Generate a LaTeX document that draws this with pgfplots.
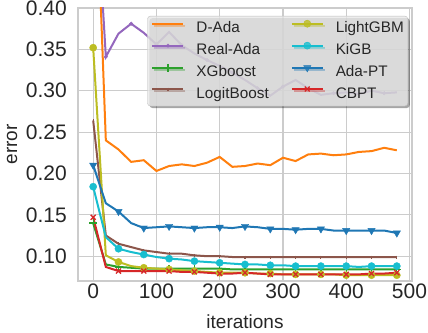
\documentclass[border=0pt]{standalone}
\usepackage{fontspec}
\setmainfont{Liberation Sans}
\usepackage{pgfplots}
\usepackage{pgfplotstable}
\pgfplotsset{compat=1.18}
\usetikzlibrary{shadows}

\definecolor{tblue}{HTML}{1F77B4}
\definecolor{torange}{HTML}{FF7F0E}
\definecolor{tgreen}{HTML}{2CA02C}
\definecolor{tred}{HTML}{D62728}
\definecolor{tpurple}{HTML}{9467BD}
\definecolor{tbrown}{HTML}{8C564B}
\definecolor{tolive}{HTML}{BCBD22}
\definecolor{tcyan}{HTML}{17BECF}
\definecolor{txt}{HTML}{262626}

% error vs. iterations, one row every 20 iterations
\pgfplotstableread{
x   dada  reada xgb   logit lgbm  kigb  adapt cbpt
0   0.650 0.600 0.140 0.264 0.352 0.184 0.210 0.147
20  0.240 0.341 0.090 0.125 0.101 0.123 0.164 0.087
40  0.229 0.369 0.087 0.115 0.093 0.109 0.154 0.082
60  0.214 0.381 0.086 0.111 0.088 0.105 0.140 0.082
80  0.216 0.370 0.085 0.107 0.086 0.102 0.134 0.082
100 0.203 0.356 0.085 0.105 0.085 0.099 0.135 0.082
120 0.209 0.371 0.085 0.103 0.084 0.097 0.136 0.082
140 0.211 0.355 0.085 0.103 0.083 0.096 0.135 0.081
160 0.209 0.345 0.085 0.101 0.082 0.094 0.134 0.081
180 0.213 0.337 0.085 0.100 0.081 0.093 0.135 0.080
200 0.220 0.330 0.085 0.100 0.080 0.092 0.135 0.079
220 0.208 0.322 0.084 0.099 0.080 0.091 0.134 0.079
240 0.209 0.313 0.084 0.099 0.080 0.090 0.136 0.080
260 0.212 0.303 0.084 0.099 0.079 0.090 0.135 0.079
280 0.210 0.294 0.084 0.099 0.079 0.089 0.133 0.078
300 0.219 0.305 0.084 0.099 0.078 0.089 0.133 0.078
320 0.215 0.313 0.084 0.099 0.078 0.088 0.132 0.078
340 0.223 0.303 0.084 0.099 0.078 0.088 0.133 0.078
360 0.224 0.295 0.084 0.099 0.078 0.088 0.133 0.078
380 0.222 0.297 0.084 0.099 0.078 0.088 0.131 0.078
400 0.223 0.298 0.084 0.099 0.077 0.088 0.131 0.078
420 0.226 0.296 0.084 0.099 0.077 0.087 0.131 0.078
440 0.227 0.300 0.084 0.099 0.077 0.088 0.131 0.079
460 0.231 0.297 0.084 0.099 0.077 0.088 0.131 0.079
480 0.228 0.298 0.084 0.099 0.077 0.088 0.128 0.080
}\errtab

\pgfplotsset{
  ln/.style={line width=2pt, mark repeat=2},
  sdada/.style={ln, color=torange, mark=none},
  sreada/.style={ln, color=tpurple, mark=*, mark size=1.8pt, mark options={line width=0.4pt}},
  sxgb/.style={ln, color=tgreen, mark=+, mark size=3.8pt, mark options={line width=1.3pt}},
  slogit/.style={ln, color=tbrown, mark=|, mark size=1.5pt, mark options={line width=1.1pt}},
  slgbm/.style={ln, color=tolive, mark=*, mark size=3.6pt, mark options={line width=0.4pt}},
  skigb/.style={ln, color=tcyan, mark=*, mark size=3.6pt, mark options={line width=0.4pt}},
  sadapt/.style={ln, color=tblue, mark=triangle*, mark size=4.2pt, mark options={rotate=180, line width=0.4pt}},
  scbpt/.style={ln, color=tred, mark=x, mark size=3.5pt, mark options={line width=1.3pt}},
}

\begin{document}
\begin{tikzpicture}
\begin{axis}[
  scale only axis,
  width=334pt, height=273pt,
  xmin=-24, xmax=504,
  ymin=0.07, ymax=0.40,
  xtick={0,100,...,500},
  ytick={0.10,0.15,0.20,0.25,0.30,0.35,0.40},
  yticklabel style={/pgf/number format/fixed, /pgf/number format/fixed zerofill,
    /pgf/number format/precision=2, inner sep=0pt, xshift=-11pt},
  /pgf/number format/assume math mode=true,
  tick label style={font=\fontsize{21}{25}\selectfont, text=txt},
  xticklabel style={inner sep=0pt, yshift=-3pt},
  major tick length=0pt,
  grid=major,
  grid style={draw=black!20, line width=1.1pt},
  axis line style={draw=black!20, line width=1.3pt},
  xlabel={iterations},
  ylabel={error},
  every axis x label/.style={at={(axis description cs:0.5,0)}, anchor=base, yshift=-47pt,
    font=\fontsize{19}{23}\selectfont, text=txt},
  every axis y label/.style={at={(axis description cs:0,0.5)}, xshift=-66pt, rotate=90, anchor=center,
    font=\fontsize{19}{23}\selectfont, text=txt},
  legend columns=2,
  legend cell align=left,
  legend image code/.code={\draw[mark repeat=2,mark phase=2,#1] plot coordinates {(0pt,5pt) (15.5pt,5pt) (31pt,5pt)};},
  legend style={
    at={(rel axis cs:0.988,0.971)}, anchor=north east,
    fill=black!9, fill opacity=0.8, text opacity=1, draw=black!25, draw opacity=1,
    rounded corners=3pt,
    drop shadow={shadow xshift=2pt, shadow yshift=-2pt, fill=black, opacity=0.35},
    font=\fontsize{15.3}{18}\selectfont, text=txt,
    inner xsep=4pt, inner ysep=4pt,
    column sep=12pt, row sep=5.3pt,
    nodes={inner sep=0pt, text height=12pt, text depth=4pt},
    /tikz/every even column/.append style={column sep=22pt},
  },
]
\addplot[sdada,  forget plot] table[x=x, y=dada]  {\errtab};
\addplot[sreada, forget plot] table[x=x, y=reada] {\errtab};
\addplot[sxgb,   forget plot] table[x=x, y=xgb]   {\errtab};
\addplot[slogit, forget plot] table[x=x, y=logit] {\errtab};
\addplot[slgbm,  forget plot] table[x=x, y=lgbm]  {\errtab};
\addplot[skigb,  forget plot] table[x=x, y=kigb]  {\errtab};
\addplot[sadapt, forget plot] table[x=x, y=adapt] {\errtab};
\addplot[scbpt,  forget plot] table[x=x, y=cbpt]  {\errtab};

% legend filled column by column, as in the original
\addlegendimage{sdada}  \addlegendentry{D-Ada}
\addlegendimage{slgbm}  \addlegendentry{LightGBM}
\addlegendimage{sreada} \addlegendentry{Real-Ada}
\addlegendimage{skigb}  \addlegendentry{KiGB}
\addlegendimage{sxgb}   \addlegendentry{XGboost}
\addlegendimage{sadapt} \addlegendentry{Ada-PT}
\addlegendimage{slogit} \addlegendentry{LogitBoost}
\addlegendimage{scbpt}  \addlegendentry{CBPT}
\end{axis}
\pgfresetboundingbox
\useasboundingbox (-78pt,-51pt) rectangle (350pt,281pt);
\end{tikzpicture}
\end{document}
